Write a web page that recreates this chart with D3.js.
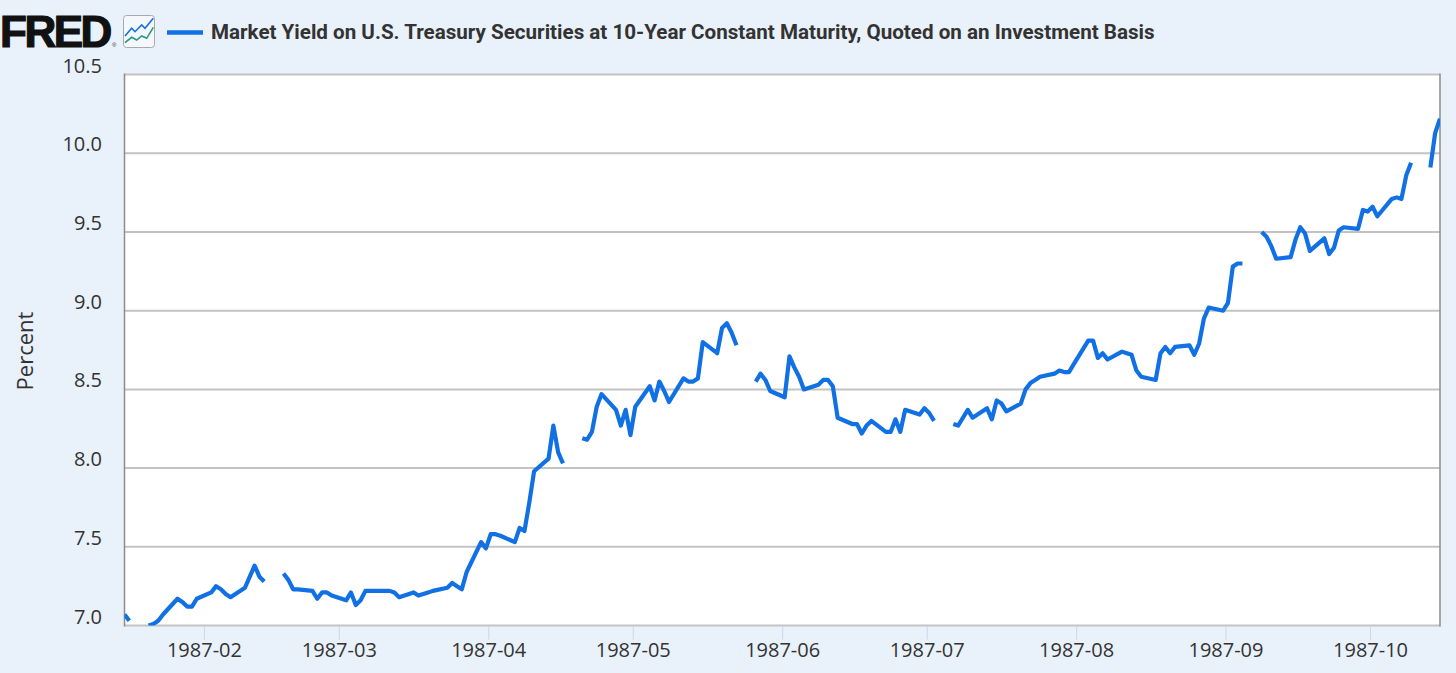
<!DOCTYPE html>
<html>
<head>
<meta charset="utf-8">
<script src="https://cdn.jsdelivr.net/npm/d3@7"></script>
<style>
  html, body { margin: 0; padding: 0; background: #e9f1fa; }
  svg { display: block; }
</style>
</head>
<body>
<svg id="chart" width="1456" height="673"></svg>
<script>
// ---- Data: DGS10 daily yields (percent), one entry per weekday; null = market holiday ----
const seriesTitle = "Market Yield on U.S. Treasury Securities at 10-Year Constant Maturity, Quoted on an Investment Basis";
const yAxisLabel = "Percent";
const startDate = "1987-01-15";
const endDate = "1987-10-15";
const yTicks = [7.0, 7.5, 8.0, 8.5, 9.0, 9.5, 10.0, 10.5];
const xTickLabels = ["1987-02","1987-03","1987-04","1987-05","1987-06","1987-07","1987-08","1987-09","1987-10"];

const yieldsJan = [7.07, 7.03, null, 7.00, 7.01, 7.03, 7.07, 7.17, 7.15, 7.12, 7.12, 7.17];
const yieldsFeb = [7.21, 7.25, 7.23, 7.20, 7.18, 7.24, 7.31, 7.38, 7.31, 7.28,
                   null, 7.33, 7.29, 7.23, 7.23, 7.22, 7.17, 7.21, 7.21, 7.19];
const yieldsMar = [7.16, 7.21, 7.13, 7.16, 7.22, 7.22, 7.22, 7.22, 7.21, 7.18,
                   7.21, 7.19, 7.20, 7.21, 7.22, 7.24, 7.27, 7.25, 7.23, 7.34, 7.53, 7.49];
const yieldsApr = [7.58, 7.58, 7.57, 7.53, 7.62, 7.60, 7.78, 7.98, 8.06, 8.27, 8.10,
                   8.03, null, 8.19, 8.18, 8.23, 8.39, 8.47, 8.37, 8.27, 8.37, 8.21];
const yieldsMay = [8.39, 8.52, 8.43, 8.55, 8.49, 8.42, 8.57, 8.55, 8.55, 8.57, 8.80,
                   8.73, 8.89, 8.92, 8.86, 8.78, null, 8.55, 8.60, 8.56, 8.49];
const yieldsJun = [8.45, 8.71, 8.64, 8.58, 8.50, 8.53, 8.56, 8.56, 8.52, 8.32, 8.28,
                   8.28, 8.22, 8.27, 8.30, 8.23, 8.23, 8.31, 8.23, 8.37, 8.34, 8.38];
const yieldsJul = [8.35, 8.30, null, 8.28, 8.27, 8.32, 8.37, 8.32, 8.38, 8.31, 8.43, 8.41,
                   8.36, 8.41, 8.50, 8.54, 8.56, 8.58, 8.60, 8.62, 8.61, 8.61, 8.66];
const yieldsAug = [8.81, 8.81, 8.70, 8.73, 8.69, 8.74, 8.73, 8.72, 8.62, 8.58, 8.56,
                   8.73, 8.77, 8.73, 8.77, 8.78, 8.72, 8.79, 8.95, 9.02, 9.00];
const yieldsSep = [9.05, 9.28, 9.30, 9.30, null, 9.50, 9.47, 9.41, 9.33, 9.34, 9.45,
                   9.53, 9.49, 9.38, 9.46, 9.36, 9.40, 9.51, 9.53, 9.52, 9.64, 9.63];
const yieldsOct = [9.66, 9.60, 9.71, 9.72, 9.71, 9.86, 9.94, null, 9.91, 10.13, 10.22];

// ---- Build the series: walk weekdays in order and pair with the monthly arrays ----
const monthly = [yieldsJan, yieldsFeb, yieldsMar, yieldsApr, yieldsMay, yieldsJun, yieldsJul, yieldsAug, yieldsSep, yieldsOct];
const parse = d3.timeParse("%Y-%m-%d");
const t0 = parse(startDate), t1 = parse(endDate);
const weekdays = d3.timeDay.range(t0, d3.timeDay.offset(t1, 1)).filter(d => d.getDay() !== 0 && d.getDay() !== 6);
const data = [];
const counters = monthly.map(() => 0);
weekdays.forEach(d => {
  const m = d.getMonth();
  const arr = monthly[m];
  const v = arr[counters[m]++];
  data.push({ date: d, value: v === undefined ? null : v });
});

// ---- Layout ----
const W = 1456, H = 673;
const plot = { left: 124.5, right: 1440, top: 74.6, bottom: 625.5 };
const svg = d3.select("#chart");

svg.append("rect").attr("width", W).attr("height", H).attr("fill", "#e9f1fa");

const x = d3.scaleTime().domain([t0, t1]).range([plot.left, plot.right]);
const y = d3.scaleLinear().domain([7.0, 10.5]).range([plot.bottom, plot.top]);

// plot background
svg.append("rect")
  .attr("x", plot.left).attr("y", plot.top)
  .attr("width", plot.right - plot.left).attr("height", plot.bottom - plot.top)
  .attr("fill", "#ffffff");

// gridlines
svg.append("g").selectAll("line").data(yTicks).join("line")
  .attr("x1", plot.left).attr("x2", plot.right)
  .attr("y1", d => y(d)).attr("y2", d => y(d))
  .attr("stroke", "#c3c3c3").attr("stroke-width", 2);

// left / right borders
svg.append("line").attr("x1", plot.left).attr("x2", plot.left).attr("y1", plot.top - 1).attr("y2", plot.bottom + 1)
  .attr("stroke", "#8c8c8c").attr("stroke-width", 1.5);
svg.append("line").attr("x1", plot.right).attr("x2", plot.right).attr("y1", plot.top - 1).attr("y2", plot.bottom + 1)
  .attr("stroke", "#8c8c8c").attr("stroke-width", 1.5);

// y tick labels
svg.append("g").selectAll("text").data(yTicks).join("text")
  .attr("x", 102).attr("y", d => y(d) - 2)
  .attr("text-anchor", "end")
  .attr("font-family", "'Open Sans', 'Noto Sans', sans-serif")
  .attr("font-size", 20).attr("fill", "#333333")
  .text(d => d3.format(".1f")(d));

// y axis title
svg.append("text")
  .attr("transform", "translate(33,351) rotate(-90)")
  .attr("text-anchor", "middle")
  .attr("font-family", "'Open Sans', 'Noto Sans', sans-serif")
  .attr("font-size", 22).attr("fill", "#333333")
  .text(yAxisLabel);

// x axis ticks + labels
const monthTicks = xTickLabels.map(s => d3.timeParse("%Y-%m")(s));
const xAxis = d3.axisBottom(x).tickValues(monthTicks).tickFormat(d3.timeFormat("%Y-%m")).tickSize(13).tickPadding(3);
const gx = svg.append("g").attr("transform", `translate(-2.5,${plot.bottom + 1})`).call(xAxis);
gx.select(".domain").remove();
gx.selectAll(".tick line").attr("stroke", "#ccd6eb").attr("stroke-width", 1);
gx.selectAll(".tick text")
  .attr("font-family", "'Open Sans', 'Noto Sans', sans-serif")
  .attr("font-size", 20).attr("fill", "#333333");

// clip
svg.append("clipPath").attr("id", "clip").append("rect")
  .attr("x", plot.left).attr("y", plot.top - 2)
  .attr("width", plot.right - plot.left).attr("height", plot.bottom - plot.top + 2);

// line
const line = d3.line()
  .defined(d => d.value !== null)
  .x(d => x(d.date)).y(d => y(d.value));
svg.append("path").datum(data)
  .attr("clip-path", "url(#clip)")
  .attr("fill", "none").attr("stroke", "#1170e4").attr("stroke-width", 4.2)
  .attr("stroke-linejoin", "round")
  .attr("d", line);

// ---- Header: FRED logo, icon, legend ----
svg.append("text").attr("x", 0).attr("y", 46.7)
  .attr("font-family", "'Liberation Sans', Arial, sans-serif").attr("font-weight", 700)
  .attr("font-size", 44).attr("letter-spacing", -2.5).attr("fill", "#111111")
  .attr("stroke", "#111111").attr("stroke-width", 1.2)
  .text("FRED");
svg.append("text").attr("x", 112).attr("y", 47)
  .attr("font-family", "'Liberation Sans', Arial, sans-serif").attr("font-size", 6).attr("fill", "#333")
  .text("®");

const icon = svg.append("g");
icon.append("rect").attr("x", 123.5).attr("y", 15.5).attr("width", 31).attr("height", 32).attr("rx", 3)
  .attr("fill", "#f4f7fb").attr("stroke", "#a9a9a9").attr("stroke-width", 1);
const iconBlue = [[125,36],[131.7,28.3],[135,31.7],[141.7,25],[145,28.3],[153.3,18.3]];
const iconGreen = [[125,42.7],[131.7,37.3],[136.7,40],[141.7,36],[146.7,38.3],[153.3,27.3]];
icon.append("path").attr("d", d3.line()(iconBlue)).attr("fill", "none").attr("stroke", "#1a6fe0").attr("stroke-width", 1.6);
icon.append("path").attr("d", d3.line()(iconGreen)).attr("fill", "none").attr("stroke", "#2a9a7c").attr("stroke-width", 1.6);

svg.append("line").attr("x1", 167).attr("x2", 203).attr("y1", 32.5).attr("y2", 32.5)
  .attr("stroke", "#1170e4").attr("stroke-width", 4.5);
svg.append("text").attr("x", 211).attr("y", 38.5)
  .attr("font-family", "Roboto, 'Noto Sans', sans-serif").attr("font-weight", 700)
  .attr("font-size", 20.6).attr("fill", "#333333")
  .text(seriesTitle);
</script>
</body>
</html>
